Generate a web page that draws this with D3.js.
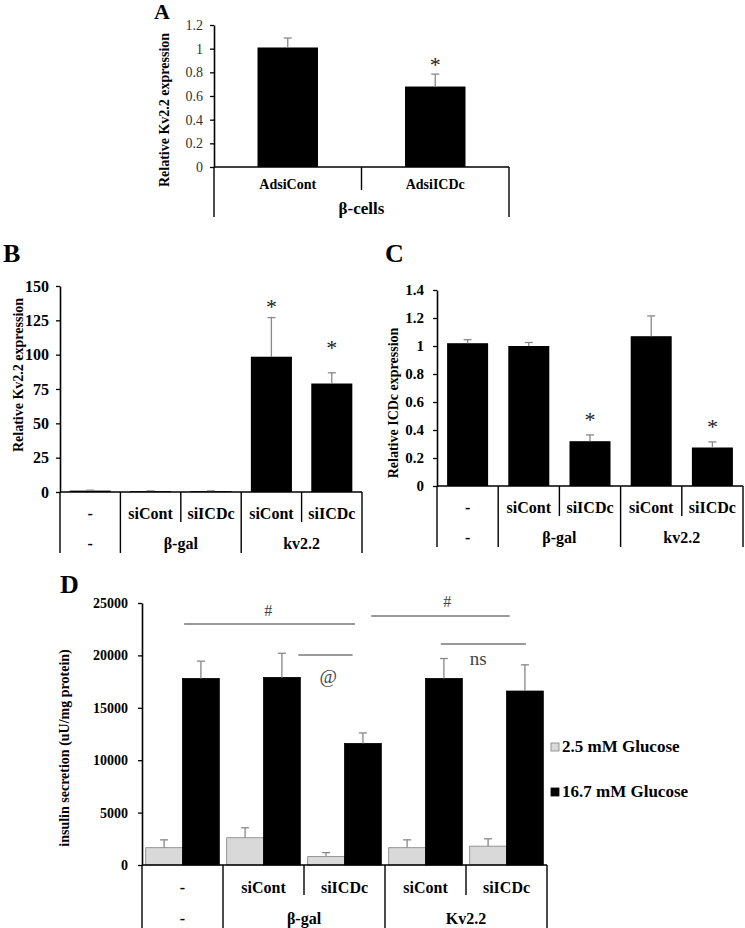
<!DOCTYPE html>
<html><head><meta charset="utf-8">
<script src="https://cdn.jsdelivr.net/npm/d3@7"></script>
<style>body{margin:0;background:#fff}svg{display:block}</style>
</head><body><svg id="c" width="745" height="928"></svg>
<script>
// ---------- Panel A ----------
const categoriesA = ["AdsiCont", "AdsiICDc"];
const groupsA = ["β-cells"];
const groupSpansA = [2];
const valuesA = [1.01, 0.68];
const errorsA = [0.08, 0.105];
const starsA = [null, 0.89];
const ticksA = [0, 0.2, 0.4, 0.6, 0.8, 1, 1.2];

// ---------- Panel B ----------
const categoriesB = ["-", "siCont", "siICDc", "siCont", "siICDc"];
const groupsB = ["-", "β-gal", "kv2.2"];
const groupSpansB = [1, 2, 2];
const valuesB = [1.0, 0.6, 0.6, 98.5, 79];
const errorsB = [0.3, 0.2, 0.2, 28.5, 7.8];
const starsB = [null, null, null, 137, 107];
const ticksB = [0, 25, 50, 75, 100, 125, 150];

// ---------- Panel C ----------
const categoriesC = ["-", "siCont", "siICDc", "siCont", "siICDc"];
const groupsC = ["-", "β-gal", "kv2.2"];
const groupSpansC = [1, 2, 2];
const valuesC = [1.02, 1.0, 0.32, 1.07, 0.275];
const errorsC = [0.025, 0.025, 0.045, 0.145, 0.04];
const starsC = [null, null, 0.49, null, 0.44];
const ticksC = [0, 0.2, 0.4, 0.6, 0.8, 1, 1.2, 1.4];

// ---------- Panel D ----------
const categoriesD = ["-", "siCont", "siICDc", "siCont", "siICDc"];
const groupsD = ["-", "β-gal", "Kv2.2"];
const groupSpansD = [1, 2, 2];
const seriesD = ["2.5 mM Glucose", "16.7 mM Glucose"];
const lowGlucose = [1650, 2600, 800, 1650, 1800];
const lowGlucoseErr = [750, 950, 380, 750, 700];
const highGlucose = [17800, 17900, 11600, 17800, 16600];
const highGlucoseErr = [1650, 2300, 1000, 1900, 2500];
const ticksD = [0, 5000, 10000, 15000, 20000, 25000];
// brackets: positions in category units (0..5) and values
const bracketFrom = [0.52, 2.83, 1.93, 3.69];
const bracketTo = [2.63, 4.54, 2.60, 4.74];
const bracketValue = [23000, 23760, 20040, 21090];
const bracketLabels = ["#", "#", "@", "ns"];
const bracketLabelAt = [1.56, 3.77, 2.30, 4.15];
const bracketLabelValue = [24330, 25100, 18030, 19660];

const FONT = "'Liberation Serif','Times New Roman',Times,serif";
const svg = d3.select("#c").style("font-family", FONT);

function drawPanel(o) {
  const g = svg.append("g");
  const n = o.cats.length;
  const y = d3.scaleLinear().domain([0, o.max]).range([o.y0, o.y1]);
  const x = d3.scaleBand().domain(d3.range(n)).range([o.x0, o.x1]);
  const bw = x.bandwidth() * o.barFrac;

  // y axis
  const ax = d3.axisLeft(y).tickValues(o.ticks).tickSizeInner(4).tickSizeOuter(0)
    .tickPadding(o.tickPad).tickFormat(o.fmt);
  const ag = g.append("g").attr("transform", `translate(${o.x0},0)`).call(ax);
  ag.select(".domain").attr("stroke", "#000").attr("stroke-width", 1.6);
  ag.selectAll(".tick line").attr("stroke", "#000").attr("stroke-width", 1.3);
  ag.selectAll(".tick text").attr("font-family", FONT).attr("font-size", o.tickSize)
    .attr("font-weight", o.tickWeight).attr("fill", o.tickColor);

  // bars
  g.selectAll("rect.bar").data(o.values).join("rect")
    .attr("x", (d, i) => x(i) + (x.bandwidth() - bw) / 2)
    .attr("y", d => y(d)).attr("width", bw).attr("height", d => o.y0 - y(d))
    .attr("fill", "#000");

  // error bars
  o.values.forEach((v, i) => {
    const cx = x(i) + x.bandwidth() / 2;
    const top = y(v + o.errs[i]);
    g.append("line").attr("x1", cx).attr("x2", cx).attr("y1", y(v)).attr("y2", top)
      .attr("stroke", "#888").attr("stroke-width", 1.3);
    g.append("line").attr("x1", cx - 4).attr("x2", cx + 4).attr("y1", top).attr("y2", top)
      .attr("stroke", "#888").attr("stroke-width", 1.3);
    if (o.stars[i] != null) {
      g.append("text").attr("x", cx).attr("y", y(o.stars[i]) + 10)
        .attr("text-anchor", "middle").attr("font-size", 22).attr("fill", "#222").text("*");
    }
  });

  drawCatAxis(g, x, o);

  // y title
  g.append("text").attr("transform", `translate(${o.titleX},${o.titleY}) rotate(-90)`)
    .attr("text-anchor", "middle").attr("dominant-baseline", "central")
    .attr("font-size", 14).attr("font-weight", "bold").text(o.title);

  // panel letter
  g.append("text").attr("x", o.letterX).attr("y", o.letterY)
    .attr("font-size", o.letterSize).attr("font-weight", "bold").text(o.letter);
  return {x, y};
}

function drawCatAxis(g, x, o) {
  const n = o.cats.length;
  const band = x.step();
  // x axis line
  g.append("line").attr("x1", o.x0).attr("x2", o.x1).attr("y1", o.y0).attr("y2", o.y0)
    .attr("stroke", "#000").attr("stroke-width", 1.6);
  // group boundaries
  const gb = new Set([0]);
  let acc = 0;
  o.spans.forEach(s => { acc += s; gb.add(acc); });
  for (let i = 0; i <= n; i++) {
    const bx = o.x0 + i * band;
    g.append("line").attr("x1", bx).attr("x2", bx).attr("y1", o.y0)
      .attr("y2", gb.has(i) ? o.longY : o.shortY)
      .attr("stroke", "#000").attr("stroke-width", 1.4);
  }
  // row 1 labels
  o.cats.forEach((c, i) => {
    g.append("text").attr("x", x(i) + x.bandwidth() / 2).attr("y", o.row1Y)
      .attr("text-anchor", "middle").attr("dominant-baseline", "central")
      .attr("font-size", o.row1Size).attr("font-weight", "bold").text(c);
  });
  // row 2 labels
  let start = 0;
  o.groups.forEach((gname, k) => {
    const cx = o.x0 + (start + o.spans[k] / 2) * band;
    g.append("text").attr("x", cx).attr("y", o.row2Y)
      .attr("text-anchor", "middle").attr("dominant-baseline", "central")
      .attr("font-size", o.row2Size).attr("font-weight", "bold").text(gname);
    start += o.spans[k];
  });
}

const fmtDec = d => String(Math.round(d * 10) / 10);

// Panel A
drawPanel({
  cats: categoriesA, groups: groupsA, spans: groupSpansA, values: valuesA, errs: errorsA, stars: starsA,
  ticks: ticksA, max: 1.2, fmt: fmtDec, x0: 214, x1: 509, y0: 167, y1: 25, barFrac: 0.41,
  tickPad: 7, tickSize: 14, tickWeight: "normal", tickColor: "#333",
  row1Y: 184, row2Y: 208, shortY: 190, longY: 217, row1Size: 14, row2Size: 17,
  title: "Relative Kv2.2 expression", titleX: 164, titleY: 110,
  letter: "A", letterX: 154, letterY: 19, letterSize: 22
});

// Panel B
drawPanel({
  cats: categoriesB, groups: groupsB, spans: groupSpansB, values: valuesB, errs: errorsB, stars: starsB,
  ticks: ticksB, max: 150, fmt: d3.format("d"), x0: 60, x1: 362, y0: 492, y1: 286, barFrac: 0.68,
  tickPad: 7, tickSize: 16, tickWeight: "bold", tickColor: "#000",
  row1Y: 513, row2Y: 543, shortY: 522, longY: 553, row1Size: 16, row2Size: 16,
  title: "Relative Kv2.2 expression", titleX: 18, titleY: 375,
  letter: "B", letterX: 3, letterY: 262, letterSize: 26
});

// Panel C
drawPanel({
  cats: categoriesC, groups: groupsC, spans: groupSpansC, values: valuesC, errs: errorsC, stars: starsC,
  ticks: ticksC, max: 1.4, fmt: fmtDec, x0: 437, x1: 743, y0: 486, y1: 290, barFrac: 0.67,
  tickPad: 9, tickSize: 15, tickWeight: "bold", tickColor: "#000",
  row1Y: 507, row2Y: 537, shortY: 516, longY: 547, row1Size: 16, row2Size: 16,
  title: "Relative ICDc expression", titleX: 393, titleY: 403,
  letter: "C", letterX: 385, letterY: 262, letterSize: 26
});

// Panel D
(function () {
  const g = svg.append("g");
  const x0 = 142, x1 = 547, y0 = 865, y1 = 603;
  const n = categoriesD.length;
  const y = d3.scaleLinear().domain([0, 25000]).range([y0, y1]);
  const x = d3.scaleBand().domain(d3.range(n)).range([x0, x1]);
  const xs = d3.scaleBand().domain(seriesD).range([0, x.bandwidth()]).paddingOuter(0.1);
  const xc = d3.scaleLinear().domain([0, n]).range([x0, x1]);

  const ax = d3.axisLeft(y).tickValues(ticksD).tickSizeInner(4).tickSizeOuter(0)
    .tickPadding(10).tickFormat(d3.format("d"));
  const ag = g.append("g").attr("transform", `translate(${x0},0)`).call(ax);
  ag.select(".domain").attr("stroke", "#000").attr("stroke-width", 1.6);
  ag.selectAll(".tick line").attr("stroke", "#000").attr("stroke-width", 1.3);
  ag.selectAll(".tick text").attr("font-family", FONT).attr("font-size", 14)
    .attr("font-weight", "bold").attr("fill", "#000");

  const series = [
    {name: seriesD[0], vals: lowGlucose, errs: lowGlucoseErr, fill: "#d9d9d9", stroke: "#808080"},
    {name: seriesD[1], vals: highGlucose, errs: highGlucoseErr, fill: "#000", stroke: "#000"}
  ];
  series.forEach(s => {
    s.vals.forEach((v, i) => {
      const bx = x(i) + xs(s.name);
      g.append("rect").attr("x", bx).attr("y", y(v)).attr("width", xs.bandwidth())
        .attr("height", y0 - y(v)).attr("fill", s.fill).attr("stroke", s.stroke).attr("stroke-width", 0.8);
      const cx = bx + xs.bandwidth() / 2, top = y(v + s.errs[i]);
      g.append("line").attr("x1", cx).attr("x2", cx).attr("y1", y(v)).attr("y2", top)
        .attr("stroke", "#888").attr("stroke-width", 1.3);
      g.append("line").attr("x1", cx - 4).attr("x2", cx + 4).attr("y1", top).attr("y2", top)
        .attr("stroke", "#888").attr("stroke-width", 1.3);
    });
  });

  drawCatAxis(g, x, {
    cats: categoriesD, groups: groupsD, spans: groupSpansD, x0, x1, y0,
    row1Y: 887, row2Y: 918, shortY: 895, longY: 928, row1Size: 16, row2Size: 16
  });

  // significance brackets
  bracketLabels.forEach((lab, i) => {
    g.append("line").attr("x1", xc(bracketFrom[i])).attr("x2", xc(bracketTo[i]))
      .attr("y1", y(bracketValue[i])).attr("y2", y(bracketValue[i]))
      .attr("stroke", "#777").attr("stroke-width", 1.5);
    g.append("text").attr("x", xc(bracketLabelAt[i])).attr("y", y(bracketLabelValue[i]))
      .attr("text-anchor", "middle").attr("dominant-baseline", "central")
      .attr("font-size", lab === "#" ? 16 : 19).attr("fill", "#444").text(lab);
  });

  // legend
  const lg = g.append("g").attr("transform", "translate(551,743)");
  series.forEach((s, k) => {
    const row = lg.append("g").attr("transform", `translate(0,${k * 45})`);
    row.append("rect").attr("width", 8).attr("height", 8).attr("fill", s.fill)
      .attr("stroke", s.stroke).attr("stroke-width", 0.8);
    row.append("text").attr("x", 11).attr("y", 9).attr("font-size", 17)
      .attr("font-weight", "bold").text(s.name);
  });

  g.append("text").attr("transform", `translate(64,748) rotate(-90)`)
    .attr("text-anchor", "middle").attr("dominant-baseline", "central")
    .attr("font-size", 14).attr("font-weight", "bold").text("insulin secretion (uU/mg protein)");

  g.append("text").attr("x", 60).attr("y", 593).attr("font-size", 26)
    .attr("font-weight", "bold").text("D");
})();
</script></body></html>
